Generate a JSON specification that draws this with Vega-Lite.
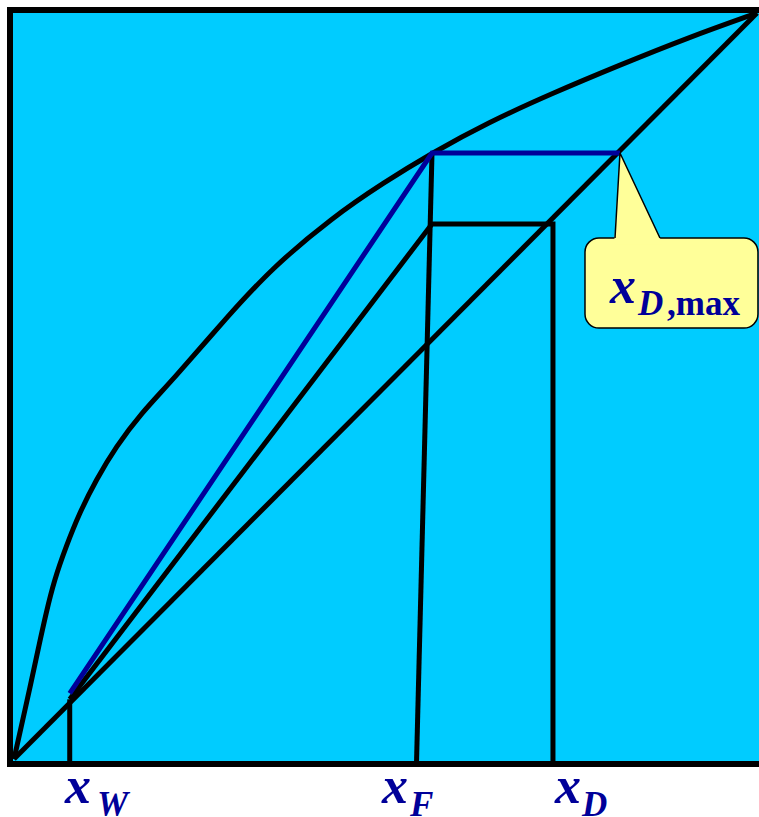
{
  "$schema": "https://vega.github.io/schema/vega-lite/v6.json",
  "width": 749,
  "height": 754,
  "autosize": {"type": "none"},
  "padding": {"left": 10, "top": 10, "right": 0, "bottom": 53},
  "background": "white",
  "view": {"fill": "#00CCFF", "stroke": null},
  "datasets": {
    "frame": [
      {"id": "left", "seq": 1, "x": -0.00538, "y": -0.0067},
      {"id": "left", "seq": 2, "x": -0.00538, "y": 1.00402},
      {"id": "top", "seq": 1, "x": -0.00538, "y": 1.00402},
      {"id": "top", "seq": 2, "x": 1.0027, "y": 1.00402},
      {"id": "bottom", "seq": 1, "x": -0.00538, "y": -0.0067},
      {"id": "bottom", "seq": 2, "x": 1.0027, "y": -0.0067}
    ],
    "curve": [
      {"x": 0, "y": 0},
      {"x": 0.0238, "y": 0.1059},
      {"x": 0.0332, "y": 0.1505},
      {"x": 0.0431, "y": 0.1953},
      {"x": 0.0542, "y": 0.2399},
      {"x": 0.07, "y": 0.2846},
      {"x": 0.0879, "y": 0.3294},
      {"x": 0.1104, "y": 0.374},
      {"x": 0.1373, "y": 0.4186},
      {"x": 0.1709, "y": 0.4634},
      {"x": 0.2136, "y": 0.508},
      {"x": 0.2867, "y": 0.5925},
      {"x": 0.3486, "y": 0.6595},
      {"x": 0.4293, "y": 0.7265},
      {"x": 0.4966, "y": 0.7721},
      {"x": 0.5626, "y": 0.8123},
      {"x": 0.6366, "y": 0.8525},
      {"x": 0.7254, "y": 0.8928},
      {"x": 0.8156, "y": 0.9303},
      {"x": 0.9058, "y": 0.9665},
      {"x": 1, "y": 1}
    ],
    "lines": [
      {"kind": "black", "id": "diag", "seq": 1, "x": 0, "y": 0},
      {"kind": "black", "id": "diag", "seq": 2, "x": 1, "y": 1},
      {"kind": "black", "id": "op", "seq": 1, "x": 0.075, "y": 0.08},
      {"kind": "black", "id": "op", "seq": 2, "x": 0.5626, "y": 0.7172},
      {"kind": "black", "id": "op", "seq": 3, "x": 0.7254, "y": 0.7172},
      {"kind": "black", "id": "op", "seq": 4, "x": 0.7254, "y": -0.0067},
      {"kind": "black", "id": "q", "seq": 1, "x": 0.5626, "y": 0.8123},
      {"kind": "black", "id": "q", "seq": 2, "x": 0.5417, "y": -0.0067},
      {"kind": "black", "id": "xw", "seq": 1, "x": 0.075, "y": 0.08},
      {"kind": "black", "id": "xw", "seq": 2, "x": 0.075, "y": -0.0067},
      {"kind": "blue", "id": "min", "seq": 1, "x": 0.075, "y": 0.088},
      {"kind": "blue", "id": "min", "seq": 2, "x": 0.5626, "y": 0.8123},
      {"kind": "blue", "id": "min", "seq": 3, "x": 0.8156, "y": 0.8123}
    ],
    "box": [
      {"x": 0.7685, "x2": 1.0013, "y": 0.6984, "y2": 0.5777}
    ],
    "pointer": [
      {"y": 0.8123, "xl": 0.8156, "xr": 0.8156},
      {"y": 0.69, "xl": 0.8077, "xr": 0.8732}
    ],
    "pointerEdge": [
      {"seq": 1, "x": 0.8089, "y": 0.6984},
      {"seq": 2, "x": 0.8156, "y": 0.8123},
      {"seq": 3, "x": 0.8694, "y": 0.6984}
    ],
    "labels": [
      {"role": "main", "x": 0.0686, "y": -0.059, "text": "x"},
      {"role": "sub", "x": 0.1117, "y": -0.0764, "text": "W"},
      {"role": "main", "x": 0.4953, "y": -0.059, "text": "x"},
      {"role": "sub", "x": 0.533, "y": -0.0764, "text": "F"},
      {"role": "main", "x": 0.7281, "y": -0.059, "text": "x"},
      {"role": "sub", "x": 0.7645, "y": -0.0764, "text": "D"},
      {"role": "main", "x": 0.8022, "y": 0.6113, "text": "x"},
      {"role": "sub", "x": 0.8398, "y": 0.5952, "text": "D"},
      {"role": "plain", "x": 0.8789, "y": 0.5952, "text": ",max"}
    ]
  },
  "encoding": {
    "x": {"type": "quantitative", "scale": {"domain": [-0.00538, 1.0027], "nice": false, "zero": false}, "axis": null},
    "y": {"type": "quantitative", "scale": {"domain": [-0.0067, 1.00402], "nice": false, "zero": false}, "axis": null}
  },
  "layer": [
    {
      "data": {"name": "curve"},
      "mark": {"type": "line", "color": "black", "strokeWidth": 5, "interpolate": "basis", "clip": false},
      "encoding": {"x": {"field": "x", "type": "quantitative"}, "y": {"field": "y", "type": "quantitative"}}
    },
    {
      "data": {"name": "lines"},
      "transform": [{"filter": "datum.kind === 'black'"}],
      "mark": {"type": "line", "color": "black", "strokeWidth": 5, "strokeJoin": "miter", "clip": false},
      "encoding": {
        "x": {"field": "x", "type": "quantitative"},
        "y": {"field": "y", "type": "quantitative"},
        "detail": {"field": "id"},
        "order": {"field": "seq", "type": "quantitative"}
      }
    },
    {
      "data": {"name": "lines"},
      "transform": [{"filter": "datum.kind === 'blue'"}],
      "mark": {"type": "line", "color": "#000099", "strokeWidth": 5, "strokeJoin": "miter", "clip": false},
      "encoding": {
        "x": {"field": "x", "type": "quantitative"},
        "y": {"field": "y", "type": "quantitative"},
        "detail": {"field": "id"},
        "order": {"field": "seq", "type": "quantitative"}
      }
    },
    {
      "data": {"name": "frame"},
      "mark": {"type": "line", "color": "black", "strokeWidth": 6, "strokeCap": "square", "clip": false},
      "encoding": {
        "x": {"field": "x", "type": "quantitative"},
        "y": {"field": "y", "type": "quantitative"},
        "detail": {"field": "id"},
        "order": {"field": "seq", "type": "quantitative"}
      }
    },
    {
      "data": {"name": "box"},
      "mark": {"type": "rect", "fill": "#FFFF99", "stroke": "black", "strokeWidth": 1.5, "cornerRadius": 14, "clip": false},
      "encoding": {
        "x": {"field": "x", "type": "quantitative"},
        "x2": {"field": "x2"},
        "y": {"field": "y", "type": "quantitative"},
        "y2": {"field": "y2"}
      }
    },
    {
      "data": {"name": "pointer"},
      "mark": {"type": "area", "orient": "horizontal", "fill": "#FFFF99", "stroke": null, "clip": false},
      "encoding": {
        "y": {"field": "y", "type": "quantitative"},
        "x": {"field": "xl", "type": "quantitative"},
        "x2": {"field": "xr"}
      }
    },
    {
      "data": {"name": "pointerEdge"},
      "mark": {"type": "line", "color": "black", "strokeWidth": 1.5, "clip": false},
      "encoding": {
        "x": {"field": "x", "type": "quantitative"},
        "y": {"field": "y", "type": "quantitative"},
        "order": {"field": "seq", "type": "quantitative"}
      }
    },
    {
      "data": {"name": "labels"},
      "transform": [{"filter": "datum.role === 'main'"}],
      "mark": {"type": "text", "font": "Liberation Serif", "fontSize": 52, "fontWeight": "bold", "fontStyle": "italic", "color": "#000099", "align": "left", "baseline": "alphabetic", "clip": false},
      "encoding": {
        "x": {"field": "x", "type": "quantitative"},
        "y": {"field": "y", "type": "quantitative"},
        "text": {"field": "text"}
      }
    },
    {
      "data": {"name": "labels"},
      "transform": [{"filter": "datum.role === 'sub'"}],
      "mark": {"type": "text", "font": "Liberation Serif", "fontSize": 35, "fontWeight": "bold", "fontStyle": "italic", "color": "#000099", "align": "left", "baseline": "alphabetic", "clip": false},
      "encoding": {
        "x": {"field": "x", "type": "quantitative"},
        "y": {"field": "y", "type": "quantitative"},
        "text": {"field": "text"}
      }
    },
    {
      "data": {"name": "labels"},
      "transform": [{"filter": "datum.role === 'plain'"}],
      "mark": {"type": "text", "font": "Liberation Serif", "fontSize": 35, "fontWeight": "bold", "color": "#000099", "align": "left", "baseline": "alphabetic", "clip": false},
      "encoding": {
        "x": {"field": "x", "type": "quantitative"},
        "y": {"field": "y", "type": "quantitative"},
        "text": {"field": "text"}
      }
    }
  ]
}
